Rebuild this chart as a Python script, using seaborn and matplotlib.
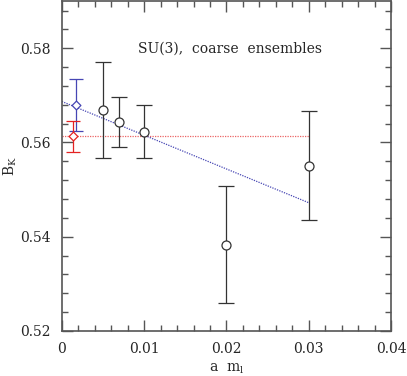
import matplotlib
matplotlib.use("Agg")
import matplotlib.pyplot as plt
import seaborn as sns
from matplotlib.ticker import MultipleLocator

# coarse ensemble data
aml = [0.005, 0.007, 0.010, 0.020, 0.030]
bk = [0.5668, 0.5644, 0.5622, 0.5383, 0.5550]
bk_lo = [0.5568, 0.5590, 0.5568, 0.5260, 0.5436]
bk_hi = [0.5770, 0.5697, 0.5680, 0.5507, 0.5667]

# extrapolated values
lin_x = [0.0017]
lin_y = [0.5680]
lin_lo = [0.5625]
lin_hi = [0.5735]
const_x = [0.0014]
const_y = [0.5614]
const_lo = [0.5580]
const_hi = [0.5645]

# fits
fit_lin_x = [0.0, 0.030]
fit_lin_y = [0.5687, 0.5472]
fit_const_x = [0.0, 0.030]
fit_const_y = [0.5614, 0.5614]

BLACK = "#333333"
BLUE = "#4646b4"
RED = "#e42222"

sns.set_style("ticks")
plt.rcParams["font.family"] = ["DejaVu Serif"]
plt.rcParams["font.size"] = 10


def err(y, lo, hi):
    return [[v - l for v, l in zip(y, lo)], [h - v for v, h in zip(y, hi)]]


def main():
    fig = plt.figure(figsize=(4.07, 3.76), dpi=100)
    ax = fig.add_axes([0.152, 0.120, 0.809, 0.877])

    sns.lineplot(x=fit_const_x, y=fit_const_y, ax=ax, color=RED, lw=0.9,
                 linestyle=(0, (1, 1)), alpha=0.7)
    sns.lineplot(x=fit_lin_x, y=fit_lin_y, ax=ax, color=BLUE, lw=0.9,
                 linestyle=(0, (1, 1)))

    ax.errorbar(aml, bk, yerr=err(bk, bk_lo, bk_hi), fmt="none",
                ecolor=BLACK, elinewidth=0.9, capsize=6, capthick=0.9)
    ax.errorbar(lin_x, lin_y, yerr=err(lin_y, lin_lo, lin_hi), fmt="none",
                ecolor=BLUE, elinewidth=0.9, capsize=5, capthick=0.9)
    ax.errorbar(const_x, const_y, yerr=err(const_y, const_lo, const_hi),
                fmt="none", ecolor=RED, elinewidth=0.9, capsize=5, capthick=0.9)

    sns.scatterplot(x=aml, y=bk, ax=ax, marker="o", s=42,
                    facecolor="white", edgecolor=BLACK, linewidth=0.9, zorder=5)
    sns.scatterplot(x=lin_x, y=lin_y, ax=ax, marker="D", s=20,
                    facecolor="white", edgecolor=BLUE, linewidth=0.9, zorder=5)
    sns.scatterplot(x=const_x, y=const_y, ax=ax, marker="D", s=20,
                    facecolor="white", edgecolor=RED, linewidth=0.9, zorder=5)

    ax.set_xlim(0, 0.04)
    ax.set_ylim(0.52, 0.59)
    ax.xaxis.set_major_locator(MultipleLocator(0.01))
    ax.xaxis.set_minor_locator(MultipleLocator(0.002))
    ax.yaxis.set_major_locator(MultipleLocator(0.02))
    ax.yaxis.set_minor_locator(MultipleLocator(0.004))
    ax.xaxis.set_major_formatter(plt.FuncFormatter(lambda v, p: "0" if v == 0 else f"{v:.2f}"))
    ax.yaxis.set_major_formatter(plt.FuncFormatter(lambda v, p: f"{v:.2f}"))
    ax.tick_params(which="both", direction="in", top=True, right=True,
                   color="#555555", width=1.0)
    ax.tick_params(which="major", length=8, pad=8)
    ax.tick_params(which="minor", length=4)
    for s in ax.spines.values():
        s.set_color("#555555")
        s.set_linewidth(1.2)

    ax.set_xlabel("a  m$_\\mathregular{l}$")
    ax.set_ylabel("B$_\\mathregular{K}$")
    ax.xaxis.set_label_coords(0.5, -0.094)
    ax.yaxis.set_label_coords(-0.13, 0.5)
    ax.text(0.0092, 0.58, "SU(3),  coarse  ensembles", va="center", ha="left")

    fig.savefig("out.png", dpi=100)


if __name__ == "__main__":
    main()
